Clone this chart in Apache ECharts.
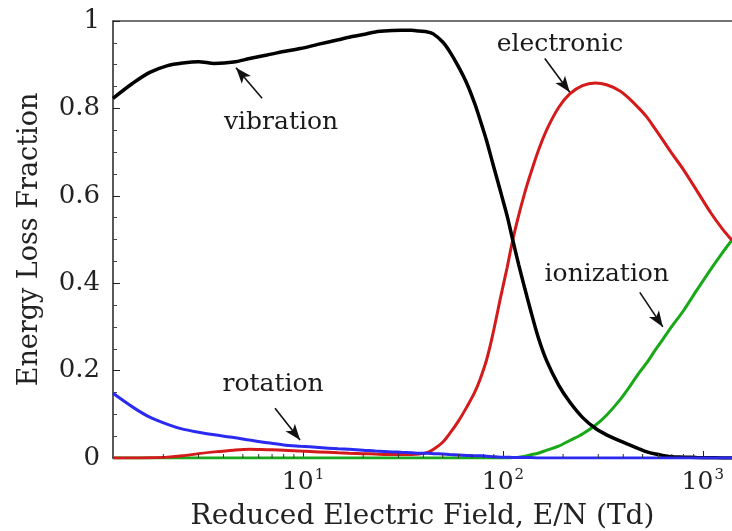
<!DOCTYPE html>
<html>
<head>
<meta charset="utf-8">
<script src="https://cdn.jsdelivr.net/npm/echarts@6/dist/echarts.min.js"></script>
<style>html,body{margin:0;padding:0;background:#fff}#c{width:732px;height:531px}</style>
</head>
<body>
<div id="c"></div>
<script>
// Reduced electric field E/N (Td)
const E = [1.12, 1.4, 1.7, 2.1, 2.5, 3.0, 3.6, 4.5, 5.4, 6.6,
  8, 9.7, 12, 15, 17, 20, 23, 28, 31, 35,
  38, 42, 45, 50, 54, 60, 66, 72, 77, 83,
  89, 97, 100, 105, 112, 120, 129, 137, 150, 166,
  190, 216, 250, 290, 330, 385, 430, 480, 525, 580,
  630, 700, 800, 930, 1100, 1250, 1400];

const vibration = [0.823, 0.857, 0.882, 0.898, 0.904, 0.907, 0.903, 0.906, 0.914, 0.922,
  0.930, 0.937, 0.947, 0.957, 0.963, 0.969, 0.975, 0.978, 0.979, 0.979,
  0.977, 0.975, 0.970, 0.952, 0.931, 0.895, 0.857, 0.813, 0.773, 0.725,
  0.674, 0.612, 0.590, 0.554, 0.499, 0.442, 0.386, 0.341, 0.277, 0.221,
  0.167, 0.128, 0.093, 0.068, 0.053, 0.039, 0.030, 0.021, 0.014, 0.009,
  0.006, 0.003, 0.002, 0.001, 0.0005, 0, 0];

const electronic = [0, 0, 0.0005, 0.002, 0.005, 0.010, 0.014, 0.018, 0.020, 0.019,
  0.018, 0.016, 0.014, 0.012, 0.011, 0.010, 0.009, 0.008, 0.008, 0.008,
  0.009, 0.013, 0.020, 0.036, 0.055, 0.085, 0.117, 0.149, 0.181, 0.226,
  0.283, 0.364, 0.392, 0.436, 0.499, 0.556, 0.609, 0.648, 0.702, 0.752,
  0.802, 0.833, 0.852, 0.858, 0.854, 0.840, 0.822, 0.800, 0.780, 0.752,
  0.728, 0.697, 0.660, 0.613, 0.560, 0.525, 0.498];

const ionization = [0, 0, 0, 0, 0, 0, 0, 0, 0, 0,
  0, 0, 0, 0, 0, 0, 0, 0, 0, 0,
  0, 0, 0, 0, 0, 0, 0, 0, 0, 0,
  0, 0, 0, 0, 0.001, 0.002, 0.004, 0.007, 0.011, 0.018,
  0.027, 0.040, 0.055, 0.075, 0.098, 0.133, 0.163, 0.195, 0.218, 0.248,
  0.271, 0.301, 0.337, 0.383, 0.433, 0.469, 0.499];

const rotation = [0.148, 0.117, 0.094, 0.077, 0.066, 0.059, 0.053, 0.047, 0.041, 0.035,
  0.030, 0.027, 0.024, 0.021, 0.020, 0.018, 0.016, 0.014, 0.013, 0.012,
  0.011, 0.011, 0.010, 0.009, 0.008, 0.007, 0.006, 0.005, 0.005, 0.004,
  0.003, 0.002, 0.002, 0.002, 0.001, 0.001, 0.001, 0.001, 0, 0,
  0, 0, 0, 0, 0, 0, 0, 0, 0, 0,
  0, 0, 0, 0, 0, 0, 0];

const minorTicksX = [2, 3, 4, 5, 6, 7, 8, 9, 20, 30, 40, 50, 60, 70, 80, 90,
  200, 300, 400, 500, 600, 700, 800, 900];

// annotation labels [text, E, fraction]
const labels = [
  ['vibration', 7.76, 0.768],
  ['electronic', 193, 0.946],
  ['ionization', 331, 0.42],
  ['rotation', 7.08, 0.169]
];
// arrows [tailE, tailY, headE, headY]
const arrows = [
  [6.24, 0.823, 4.62, 0.893],
  [162, 0.914, 216, 0.837],
  [484, 0.379, 631, 0.300],
  [7.24, 0.114, 9.66, 0.041]
];

const FONT = 'DejaVu Serif';
const pair = (ys) => E.map((x, i) => [x, ys[i]]);

const chart = echarts.init(document.getElementById('c'), null, {renderer: 'canvas'});
const lineBase = {type: 'line', showSymbol: false, smooth: 0.3, animation: false, clip: true};

chart.setOption({
  animation: false,
  backgroundColor: '#fff',
  grid: {left: 113, right: 0, top: 21, bottom: 73, containLabel: false, outerBoundsMode: 'none'},
  xAxis: [{
    type: 'log', logBase: 10, min: 1.12, max: 1400,
    axisLine: {show: true, lineStyle: {color: '#222', width: 1.5}},
    axisTick: {show: true, inside: true, length: 7, lineStyle: {color: '#222'}},
    minorTick: {show: false},
    splitLine: {show: false},
    axisLabel: {
      showMinLabel: false, showMaxLabel: false, margin: 10,
      formatter: function (v) {
        const e = Math.round(Math.log10(v));
        return '{b|10}{s|' + e + '}';
      },
      rich: {
        b: {fontFamily: FONT, fontSize: 25, color: '#222'},
        s: {fontFamily: FONT, fontSize: 15, color: '#222', verticalAlign: 'top', padding: [0, 0, 14, 1]}
      }
    },
    name: 'Reduced Electric Field, E/N (Td)',
    nameLocation: 'middle', nameGap: 45,
    nameTextStyle: {fontFamily: FONT, fontSize: 28, color: '#222'}
  }, {
    type: 'log', logBase: 10, min: 1.12, max: 1400, position: 'top',
    axisLine: {show: true, lineStyle: {color: '#444', width: 1.5}},
    axisTick: {show: false}, axisLabel: {show: false}, splitLine: {show: false}
  }],
  yAxis: {
    type: 'value', min: 0, max: 1, interval: 0.2,
    axisLine: {show: true, lineStyle: {color: '#222', width: 1.5}},
    axisTick: {show: true, inside: true, length: 7, lineStyle: {color: '#222'}},
    minorTick: {show: true, splitNumber: 4, length: 4, lineStyle: {color: '#444'}},
    splitLine: {show: false},
    axisLabel: {margin: 13, fontFamily: FONT, fontSize: 26, color: '#222'},
    name: 'Energy Loss Fraction',
    nameLocation: 'middle', nameGap: 70,
    nameTextStyle: {fontFamily: FONT, fontSize: 27, color: '#222'}
  },
  series: [
    Object.assign({}, lineBase, {name: 'ionization', data: pair(ionization), lineStyle: {color: '#18a818', width: 3}, z: 2}),
    Object.assign({}, lineBase, {name: 'electronic', data: pair(electronic), lineStyle: {color: '#d41a1a', width: 3}, z: 3}),
    Object.assign({}, lineBase, {name: 'vibration', data: pair(vibration), lineStyle: {color: '#000', width: 3.5}, z: 4}),
    Object.assign({}, lineBase, {name: 'rotation', data: pair(rotation), lineStyle: {color: '#2a2af0', width: 3}, z: 5}),
    {
      type: 'custom', name: 'minor ticks', silent: true, animation: false, z: 6, clip: false,
      data: minorTicksX.map(v => [v, 0]),
      renderItem: function (params, api) {
        const p = api.coord([api.value(0), 0]);
        return {type: 'line', shape: {x1: p[0], y1: p[1], x2: p[0], y2: p[1] - 4}, style: {stroke: '#333', lineWidth: 1}};
      }
    },
    {
      type: 'line', name: 'annotations', data: [], silent: true, animation: false, z: 7,
      markLine: {
        silent: true, animation: false,
        symbol: ['none', 'arrow'], symbolSize: [9, 16],
        lineStyle: {color: '#111', width: 1.6, type: 'solid'},
        label: {show: false},
        data: arrows.map(a => [{coord: [a[0], a[1]]}, {coord: [a[2], a[3]]}])
      },
      markPoint: {
        silent: true, animation: false, symbol: 'circle', symbolSize: 0,
        label: {show: true, position: 'inside', formatter: '{b}', fontFamily: FONT, fontSize: 25, color: '#1a1a1a'},
        data: labels.map(l => ({name: l[0], coord: [l[1], l[2]], value: 0}))
      }
    }
  ]
});
</script>
</body>
</html>
